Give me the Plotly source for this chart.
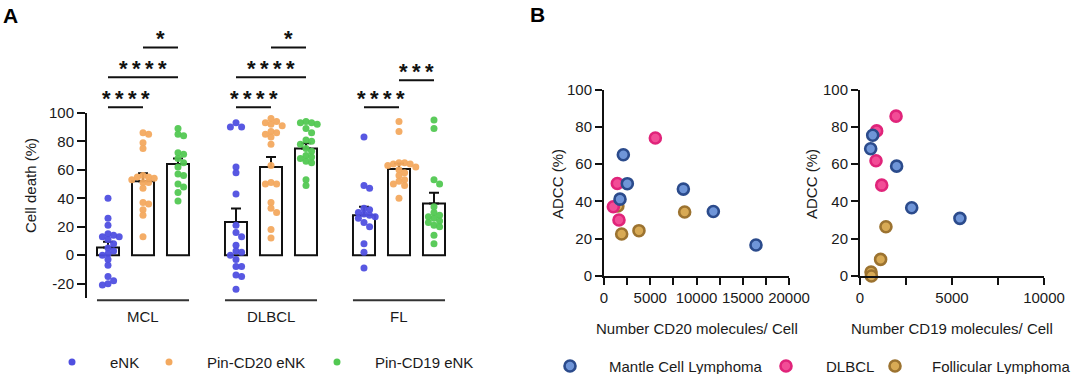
import plotly.graph_objects as go

W, H = 1080, 374

# ---------------- Panel A data ----------------
groups = ["MCL", "DLBCL", "FL"]
series = ["eNK", "Pin-CD20 eNK", "Pin-CD19 eNK"]

mcl_enk = [40, 26, 21, 15, 14, 13, 13, 11, 8, 5, 3, 1, 0, -3, -7, -15, -18, -20, -21]
mcl_cd20 = [86, 85, 79, 75, 56, 55, 55, 54, 53, 51, 51, 47, 37, 36, 32, 28, 13]
mcl_cd19 = [89, 85, 84, 72, 71, 68, 65, 62, 57, 56, 50, 48, 44, 38]

dlbcl_enk = [93, 90, 90, 62, 58, 43, 21, 16, 13, 7, 3, 2, 0, -3, -8, -8, -14, -15, -24]
dlbcl_cd20 = [96, 94, 93, 92, 91, 87, 86, 85, 83, 78, 63, 51, 50, 50, 37, 33, 30, 18, 12]
dlbcl_cd19 = [94, 93, 93, 92, 89, 86, 81, 80, 78, 75, 73, 70, 69, 68, 66, 65, 53, 49]

fl_enk = [83, 49, 47, 33, 32, 30, 29, 28, 27, 26, 23, 20, 8, 2, -9]
fl_cd20 = [94, 87, 65, 65, 64, 64, 63, 62, 60, 58, 56, 53, 52, 50, 49, 40]
fl_cd19 = [95, 89, 53, 50, 34, 30, 28, 27, 26, 24, 23, 21, 20, 14, 8]

enk_mean = [5.4, 23.4, 28.0]
enk_sem = [4.0, 9.4, 6.0]
cd20_mean = [52.0, 62.0, 60.5]
cd20_sem = [5.5, 7.0, 4.0]
cd19_mean = [64.0, 75.0, 36.4]
cd19_sem = [4.0, 3.6, 7.5]

sig_group = [0, 0, 0, 1, 1, 1, 2, 2]
sig_from = [0, 0, 1, 0, 0, 1, 0, 1]
sig_to = [1, 2, 2, 1, 2, 2, 1, 2]
sig_level = [104, 125, 146, 104, 125, 146, 104, 123]
sig_text = ["****", "****", "*", "****", "****", "*", "****", "***"]

yticks_a = [-20, 0, 20, 40, 60, 80, 100]

# ---------------- Panel B data ----------------
b_groups = ["Mantle Cell Lymphoma", "DLBCL", "Follicular Lymphoma"]
cd20_mcl_x = [2090, 2520, 1730, 8580, 11820, 16430]
cd20_mcl_y = [65, 49.5, 41.2, 46.6, 34.6, 16.6]
cd20_dlbcl_x = [5550, 1440, 1010, 1620]
cd20_dlbcl_y = [74, 49.6, 37.1, 30]
cd20_fl_x = [1910, 3780, 8720, 1500]
cd20_fl_y = [22.5, 24.3, 34.3, 37.5]

cd19_mcl_x = [690, 580, 1990, 2810, 5430]
cd19_mcl_y = [75.5, 68.2, 58.9, 36.6, 30.9]
cd19_dlbcl_x = [1960, 905, 870, 1180]
cd19_dlbcl_y = [85.7, 77.8, 61.8, 48.7]
cd19_fl_x = [1410, 1120, 600, 620]
cd19_fl_y = [26.4, 8.9, 2.1, 0]

# ---------------- styling ----------------
FONT = "Liberation Sans, Arial, sans-serif"
TXT = "#1a1a1a"
dot_colors = ["#4f4fe0", "#f3a95f", "#52c852"]
b_fill = ["#6f95d8", "#f24d97", "#d8aa55"]
b_line = ["#2b4b8c", "#e0247a", "#9c7330"]

def pxx(x):
    return x / W

def pxy(y):
    return 1 - y / H

GROUP_STEP = 3.657
BAR_W = 0.63

def pos(g, s):
    return g * GROUP_STEP + (s - 1)

# panel A pixel scales (for beeswarm layout)
PX_PER_X = 35.0
PX_PER_Y = 1.423
DIAM = 7.0

def swarm(vals, center):
    order = sorted(range(len(vals)), key=lambda i: -vals[i])
    placed = []
    xs = [center] * len(vals)
    cands = [0]
    for m in range(1, 12):
        cands += [m, -m]
    for i in order:
        ypx = vals[i] * PX_PER_Y
        for c in cands:
            off = c * DIAM * 0.8
            ok = True
            for (ox, oy) in placed:
                if (ox - off) ** 2 + (oy - ypx) ** 2 < (DIAM * 0.8) ** 2:
                    ok = False
                    break
            if ok:
                placed.append((off, ypx))
                xs[i] = center + off / PX_PER_X
                break
    return xs

fig = go.Figure()

data_a = [
    [mcl_enk, dlbcl_enk, fl_enk],
    [mcl_cd20, dlbcl_cd20, fl_cd20],
    [mcl_cd19, dlbcl_cd19, fl_cd19],
]
means = [enk_mean, cd20_mean, cd19_mean]
sems = [enk_sem, cd20_sem, cd19_sem]

for s in range(3):
    fig.add_trace(go.Bar(
        x=[pos(g, s) for g in range(3)], y=means[s], width=BAR_W,
        marker=dict(color="white", line=dict(color="#111", width=2)),
        error_y=dict(type="data", array=sems[s], arrayminus=[0, 0, 0], symmetric=False,
                     color="#111", thickness=2, width=5),
        showlegend=False, hoverinfo="skip", xaxis="x", yaxis="y"))

for s in range(3):
    for g in range(3):
        vals = data_a[s][g]
        fig.add_trace(go.Scatter(
            x=swarm(vals, pos(g, s)), y=vals, mode="markers",
            marker=dict(size=7, color=dot_colors[s], opacity=0.95),
            name=series[s], showlegend=False, cliponaxis=False,
            xaxis="x", yaxis="y"))

# panel B scatter
def add_b(xs, ys, k, xa, ya):
    fig.add_trace(go.Scatter(
        x=xs, y=ys, mode="markers",
        marker=dict(size=11, color=b_fill[k], line=dict(color=b_line[k], width=2.6)),
        name=b_groups[k], showlegend=False, cliponaxis=False, xaxis=xa, yaxis=ya))

add_b(cd20_fl_x, cd20_fl_y, 2, "x2", "y2")
add_b(cd20_dlbcl_x, cd20_dlbcl_y, 1, "x2", "y2")
add_b(cd20_mcl_x, cd20_mcl_y, 0, "x2", "y2")
add_b(cd19_fl_x, cd19_fl_y, 2, "x3", "y3")
add_b(cd19_dlbcl_x, cd19_dlbcl_y, 1, "x3", "y3")
add_b(cd19_mcl_x, cd19_mcl_y, 0, "x3", "y3")

shapes = []
annotations = []

def ann(text, x, y, xref="paper", yref="paper", size=15, xa="center", ya="middle", angle=0, color=TXT):
    annotations.append(dict(text=text, x=x, y=y, xref=xref, yref=yref, showarrow=False,
                            xanchor=xa, yanchor=ya, textangle=angle,
                            font=dict(size=size, color=color, family=FONT)))

# panel A y axis line
shapes.append(dict(type="line", xref="x domain", yref="y", x0=0, x1=0, y0=-30, y1=100,
                   line=dict(color="#111", width=2)))
# group underlines and labels
for g in range(3):
    shapes.append(dict(type="line", xref="x", yref="y",
                       x0=pos(g, 0) - BAR_W / 2, x1=pos(g, 2) + BAR_W / 2, y0=-31.6, y1=-31.6,
                       line=dict(color="#333", width=2)))
    ann(groups[g], pos(g, 1), pxy(316), xref="x")
# significance brackets
for i in range(len(sig_text)):
    g = sig_group[i]
    x0 = pos(g, sig_from[i]); x1 = pos(g, sig_to[i])
    shapes.append(dict(type="line", xref="x", yref="y", x0=x0, x1=x1,
                       y0=sig_level[i], y1=sig_level[i], line=dict(color="#111", width=2)))
    ann("<b>" + "\u2009".join(sig_text[i]) + "</b>", (x0 + x1) / 2, sig_level[i] - 4,
        xref="x", yref="y", size=22, ya="bottom", color="#111")

# axis titles
ann("Cell death (%)", pxx(30), pxy(186), angle=-90)
ann("ADCC (%)", pxx(557), pxy(184), angle=-90)
ann("ADCC (%)", pxx(811), pxy(184), angle=-90)
ann("Number CD20 molecules/ Cell", pxx(697), pxy(328))
ann("Number CD19 molecules/ Cell", pxx(952), pxy(328))
# panel letters
ann("<b>A</b>", pxx(1), pxy(2), xa="left", ya="top", size=21, color="#000")
ann("<b>B</b>", pxx(528), pxy(1), xa="left", ya="top", size=21, color="#000")

# legends (manual)
leg_a = [(72, 108), (169, 205), (337, 373)]
for s in range(3):
    mx, tx = leg_a[s]
    shapes.append(dict(type="circle", xref="paper", yref="paper", xsizemode="pixel", ysizemode="pixel",
                       xanchor=pxx(mx), yanchor=pxy(362), x0=-3.5, x1=3.5, y0=-3.5, y1=3.5,
                       fillcolor=dot_colors[s], line=dict(width=0)))
    ann(series[s], pxx(tx), pxy(362), xa="left")
leg_b = [(570, 607), (786, 824), (895, 930)]
for k in range(3):
    mx, tx = leg_b[k]
    shapes.append(dict(type="circle", xref="paper", yref="paper", xsizemode="pixel", ysizemode="pixel",
                       xanchor=pxx(mx), yanchor=pxy(366), x0=-5.5, x1=5.5, y0=-5.5, y1=5.5,
                       fillcolor=b_fill[k], line=dict(width=2.6, color=b_line[k])))
    ann(b_groups[k], pxx(tx), pxy(366), xa="left")

tickfont = dict(size=15, color=TXT, family=FONT)
common_b = dict(showline=True, linewidth=2, linecolor="#111", showgrid=False, zeroline=False,
                ticks="outside", ticklen=7, tickwidth=2, tickcolor="#111", tickfont=tickfont,
                automargin=False)

fig.update_layout(
    width=W, height=H, margin=dict(l=0, r=0, t=0, b=0, autoexpand=False),
    paper_bgcolor="white", plot_bgcolor="white",
    barmode="overlay", showlegend=False,
    shapes=shapes, annotations=annotations,
    xaxis=dict(domain=[pxx(86), pxx(455)], range=[-1 - 22 / 35, -1 + (455 - 108) / 35],
               visible=False, anchor="y", automargin=False),
    yaxis=dict(domain=[pxy(305), pxy(27.5)], range=[-35, 160], anchor="x",
               showline=False, showgrid=False, zeroline=False, automargin=False,
               tickvals=yticks_a, ticktext=[str(v) for v in yticks_a],
               ticks="outside", ticklen=8, tickwidth=2, tickcolor="#111", tickfont=tickfont),
    xaxis2=dict(domain=[pxx(604), pxx(789)], range=[0, 20000], anchor="y2",
                tickvals=[i * 2500 for i in range(9)],
                ticktext=[str(i * 2500) if i % 2 == 0 else "" for i in range(9)], **common_b),
    yaxis2=dict(domain=[pxy(276), pxy(89.5)], range=[0, 100], anchor="x2",
                tickvals=[0, 20, 40, 60, 80, 100], **common_b),
    xaxis3=dict(domain=[pxx(860), pxx(1044)], range=[0, 10000], anchor="y3",
                tickvals=[i * 2500 for i in range(5)],
                ticktext=[str(i * 2500) if i % 2 == 0 else "" for i in range(5)], **common_b),
    yaxis3=dict(domain=[pxy(276), pxy(89.5)], range=[0, 100], anchor="x3",
                tickvals=[0, 20, 40, 60, 80, 100], **common_b),
)

fig.write_html("out.html", config={"displayModeBar": False},
               post_script="document.body.style.margin='0px';document.body.style.overflow='hidden';")
